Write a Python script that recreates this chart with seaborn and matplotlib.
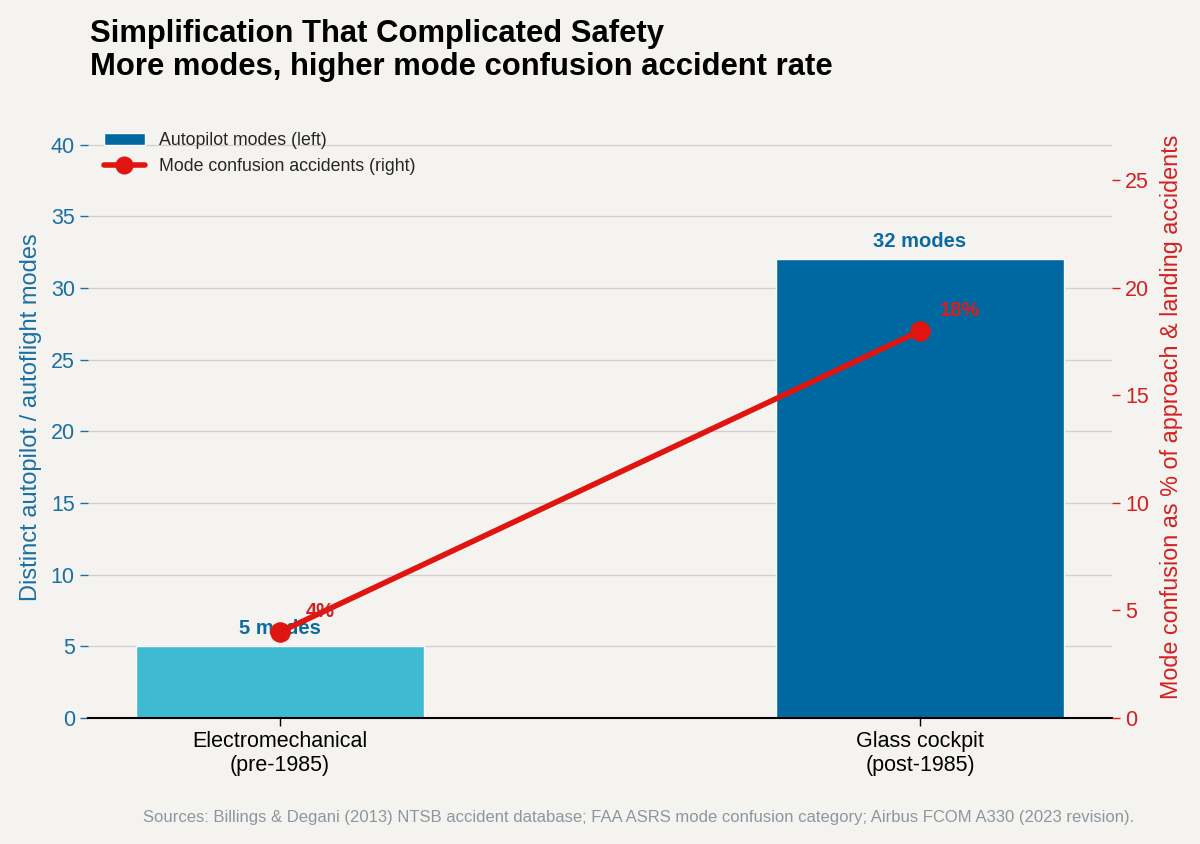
import numpy as np
import matplotlib
matplotlib.use("Agg")
import matplotlib.pyplot as plt
import seaborn as sns
from matplotlib.patches import Patch
from matplotlib.lines import Line2D

# data
eras = ["Electromechanical\n(pre-1985)", "Glass cockpit\n(post-1985)"]
modes = [5, 32]
confusion_pct = [4, 18]
bar_colors = ["#3fbad3", "#0068a0"]

BG = "#f5f3ef"
BLUE = "#1a6fa3"
RED = "#e0150f"
RED_TXT = "#d42020"

sns.set_theme(style="white")
plt.rcParams['font.family'] = ['Liberation Sans', 'DejaVu Sans']

fig = plt.figure(figsize=(12, 8.44), dpi=100, facecolor=BG)
ax = fig.add_axes([0.0733, 0.1493, 0.8534, 0.7133])
ax.set_facecolor(BG)

sns.barplot(x=eras, y=modes, hue=eras, palette=bar_colors, width=0.45,
            legend=False, ax=ax, saturation=1)
ax.set_xlim(-0.3, 1.3)
ax.set_ylim(0, 42)
ax.set_yticks(np.arange(0, 45, 5))
ax.set_axisbelow(True)
ax.yaxis.grid(True, color="#cfcfcf", lw=0.9)
ax.tick_params(axis="y", colors=BLUE, labelsize=15.5, length=6, width=1, left=True)
ax.tick_params(axis="x", colors="black", labelsize=15.5, length=6, width=1, bottom=True)
ax.set_ylabel("Distinct autopilot / autoflight modes", color=BLUE, fontsize=17, labelpad=6)
for s in ["left", "right", "top"]:
    ax.spines[s].set_visible(False)
ax.spines["bottom"].set_color("black")
ax.spines["bottom"].set_linewidth(1.5)

for i, v in enumerate(modes):
    ax.annotate(f"{v} modes", (i, v), xytext=(0, 6), textcoords="offset points",
                ha="center", va="bottom", fontsize=14.5, fontweight="bold", color="#0d6aa0")

ax2 = ax.twinx()
ax2.set_facecolor("none")
xpos = np.arange(len(eras))
sns.lineplot(x=xpos, y=confusion_pct, ax=ax2, color=RED, lw=4, marker="o",
             markersize=14, markeredgecolor=RED)
ax2.set_ylim(0, 28)
ax2.set_yticks(np.arange(0, 30, 5))
ax2.tick_params(axis="y", colors=RED_TXT, labelsize=15.5, length=6, width=1, right=True)
ax2.set_ylabel("Mode confusion as % of approach & landing accidents", color=RED_TXT,
               fontsize=16.8, labelpad=8)
for s in ["left", "right", "top", "bottom"]:
    ax2.spines[s].set_visible(False)

for i, v in enumerate(confusion_pct):
    ax2.annotate(f"{v}%", (i, v), xytext=(29, 15), textcoords="offset points",
                 ha="center", va="center", fontsize=14.5, fontweight="bold", color=RED_TXT)

handles = [Patch(facecolor="#0068a0", label="Autopilot modes (left)"),
           Line2D([0], [0], color=RED, lw=4, marker="o", markersize=12,
                  label="Mode confusion accidents (right)")]
ax2.legend(handles=handles, loc="upper left", frameon=False, fontsize=12.8,
           handlelength=2.3, labelspacing=0.5, bbox_to_anchor=(0.0, 1.0))

fig.text(0.075, 0.978, "Simplification That Complicated Safety\nMore modes, higher mode confusion accident rate",
         ha="left", va="top", fontsize=22.3, fontweight="bold", color="black", linespacing=1.15)
fig.text(0.5325, 0.031, "Sources: Billings & Degani (2013) NTSB accident database; FAA ASRS mode confusion category; Airbus FCOM A330 (2023 revision).",
         ha="center", va="center", fontsize=12, color="#8c96a0")

fig.savefig("out.png", dpi=100, facecolor=BG)
